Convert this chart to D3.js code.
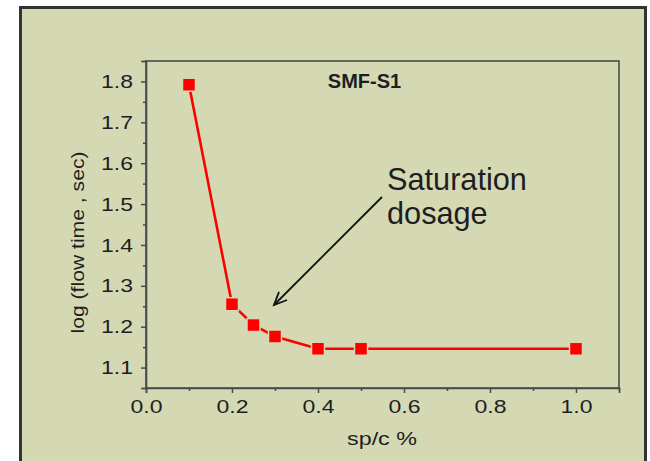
<!DOCTYPE html>
<html><head><meta charset="utf-8">
<script src="https://cdn.jsdelivr.net/npm/d3@7"></script>
<style>body{margin:0;background:#fff}svg{display:block}</style>
</head><body>
<svg id="c" width="650" height="461"></svg>
<script>
const xValues = [0.1, 0.2, 0.25, 0.3, 0.4, 0.5, 1.0];
const yValues = [1.792, 1.255, 1.204, 1.176, 1.146, 1.146, 1.146];
const xTicks = [0.0, 0.2, 0.4, 0.6, 0.8, 1.0];
const yTicks = [1.1, 1.2, 1.3, 1.4, 1.5, 1.6, 1.7, 1.8];
const xMinor = [0.1, 0.3, 0.5, 0.7, 0.9, 1.1];
const yMinor = [1.05, 1.15, 1.25, 1.35, 1.45, 1.55, 1.65, 1.75, 1.85];

const svg = d3.select("#c");
const bg = "#d5d9b3";
const ink = "#1e1e22";
svg.append("rect").attr("x",20.5).attr("y",7.5).attr("width",625).attr("height",470)
  .attr("fill",bg).attr("stroke","#333").attr("stroke-width",3);

const L=146, R=619, T=61, B=388;
const x = d3.scaleLinear().domain([0,1.1]).range([L,R]);
const y = d3.scaleLinear().domain([1.05,1.85]).range([B,T]);

svg.append("rect").attr("x",L).attr("y",T).attr("width",R-L).attr("height",B-T)
  .attr("fill","none").attr("stroke","#4a4a4a").attr("stroke-width",1.6);

const font = "Arial, 'Liberation Sans', sans-serif";
svg.append("g").attr("class","ax").attr("transform",`translate(0,${B})`)
  .call(d3.axisBottom(x).tickValues(xTicks).tickFormat(d3.format(".1f")).tickSize(5).tickPadding(7));
svg.append("g").attr("class","ax").attr("transform",`translate(${L},0)`)
  .call(d3.axisLeft(y).tickValues(yTicks).tickFormat(d3.format(".1f")).tickSize(5).tickPadding(8));
svg.append("g").attr("transform",`translate(0,${B})`)
  .call(d3.axisBottom(x).tickValues(xMinor).tickFormat("").tickSize(3)).select(".domain").remove();
svg.append("g").attr("transform",`translate(${L},0)`)
  .call(d3.axisLeft(y).tickValues(yMinor).tickFormat("").tickSize(3)).select(".domain").remove();
svg.selectAll(".tick line").attr("stroke","#4a4a4a").attr("stroke-width",1.5);
svg.selectAll(".domain").attr("stroke","#4a4a4a").attr("stroke-width",1.6);
svg.selectAll(".ax .tick text").attr("font-family",font).attr("font-size",19).attr("fill",ink)
  .attr("textLength",32).attr("lengthAdjust","spacingAndGlyphs");

svg.append("text").attr("x",382).attr("y",445).attr("text-anchor","middle")
  .attr("font-family",font).attr("font-size",18).attr("fill",ink)
  .attr("textLength",70).attr("lengthAdjust","spacingAndGlyphs").text("sp/c %");
svg.append("text").attr("transform",`translate(84,242.5) rotate(-90)`).attr("text-anchor","middle")
  .attr("font-family",font).attr("font-size",18).attr("fill",ink)
  .attr("textLength",182).attr("lengthAdjust","spacingAndGlyphs").text("log (flow time , sec)");

svg.append("text").attr("x",364.5).attr("y",88).attr("text-anchor","middle")
  .attr("font-family",font).attr("font-size",20).attr("font-weight","bold").attr("fill",ink).text("SMF-S1");

const pts = xValues.map((v,i)=>[v,yValues[i]]);
svg.append("path").datum(pts).attr("fill","none").attr("stroke","#ff0000").attr("stroke-width",2.6)
  .attr("d", d3.line().x(d=>x(d[0])).y(d=>y(d[1])));
svg.selectAll("rect.m").data(pts).join("rect").attr("class","m")
  .attr("x",d=>x(d[0])-5.75).attr("y",d=>y(d[1])-5.75).attr("width",11.5).attr("height",11.5)
  .attr("fill","#ff0000").attr("stroke",bg).attr("stroke-width",3).attr("paint-order","stroke");

svg.append("text").attr("x",387).attr("y",189.5).attr("font-family",font).attr("font-size",30.7).attr("fill",ink).text("Saturation");
svg.append("text").attr("x",387).attr("y",224).attr("font-family",font).attr("font-size",30.7).attr("fill",ink).text("dosage");
const ax1=382, ay1=197, ax2=274, ay2=305;
svg.append("line").attr("x1",ax1).attr("y1",ay1).attr("x2",ax2).attr("y2",ay2).attr("stroke","#111").attr("stroke-width",1.8);
const ang = Math.atan2(ay2-ay1, ax2-ax1);
const hl=14, ha=0.42;
svg.append("path").attr("fill","none").attr("stroke","#111").attr("stroke-width",1.8)
  .attr("d",`M${ax2-hl*Math.cos(ang-ha)},${ay2-hl*Math.sin(ang-ha)}L${ax2},${ay2}L${ax2-hl*Math.cos(ang+ha)},${ay2-hl*Math.sin(ang+ha)}`);
</script>
</body></html>
